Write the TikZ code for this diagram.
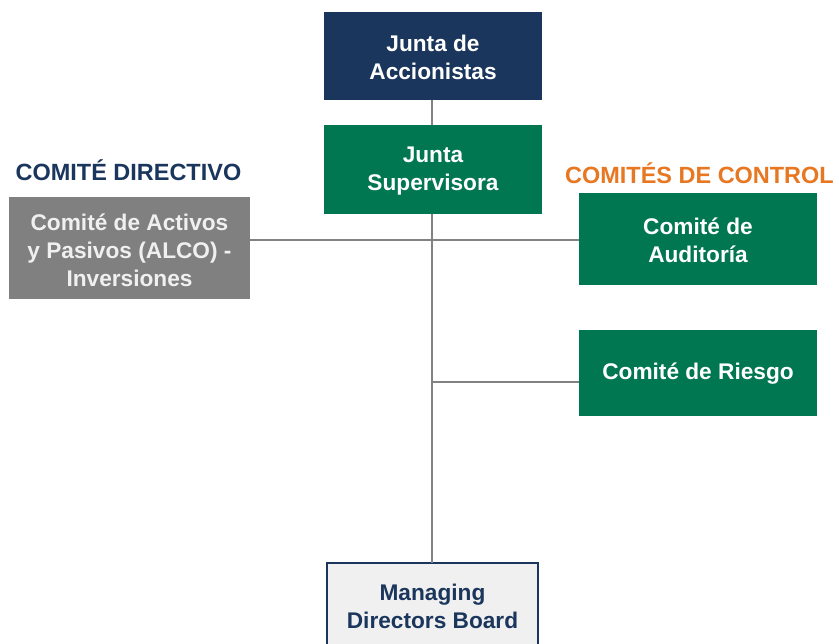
\documentclass[tikz,border=0pt]{standalone}
\usepackage{fontspec}
\setmainfont{Liberation Sans}
\definecolor{navy}{RGB}{27,54,93}
\definecolor{dgreen}{RGB}{0,119,80}
\definecolor{midgray}{RGB}{128,128,128}
\definecolor{lgray}{RGB}{240,240,240}
\definecolor{borange}{RGB}{232,119,34}
\definecolor{linegray}{RGB}{130,130,130}
\begin{document}
\begin{tikzpicture}[x=0.75pt,y=-0.75pt,
  box/.style={draw=none,inner sep=0pt,align=center,font=\bfseries\fontsize{17}{21}\selectfont,text=white},
  hdr/.style={font=\bfseries\fontsize{17.6}{20}\selectfont,inner sep=0pt},
  conn/.style={draw=linegray,line width=1.1pt}]
\useasboundingbox (0,0) rectangle (839,643);
\clip (0,0) rectangle (839,643);
\fill[white] (0,0) rectangle (839,643);
% boxes
\fill[navy] (324,12) rectangle (542,100);
\node[box] (ja) at (433,57) {Junta de\\Accionistas};
\fill[dgreen] (324,125) rectangle (542,214);
\node[box] (js) at (433,171) {Junta\\Supervisora};
\fill[midgray] (9,197) rectangle (250,299);
\node[box,text=lgray] (alco) at (129.5,250) {Comité de Activos\\y Pasivos (ALCO) -\\Inversiones};
\fill[dgreen] (579,193) rectangle (817,285);
\node[box] (aud) at (698,240) {Comité de\\Auditoría};
\fill[dgreen] (579,330) rectangle (817,416);
\node[box] (rie) at (698,374) {Comité de Riesgo};
\filldraw[fill=lgray,draw=navy,line width=1pt] (327,563) rectangle (538,660);
\node[box,text=navy] (mdb) at (432.5,606) {Managing\\Directors Board};
% headers
\node[hdr,text=navy] (hdir) at (128.5,170) {COMITÉ DIRECTIVO};
\node[hdr,text=borange] (hctl) at (699.5,173) {COMITÉS DE CONTROL};
% connectors
\coordinate (top) at (432,100);
\coordinate (bot) at (432,563);
\coordinate (j2) at (432,382);
\coordinate (lft) at (250,240);
\coordinate (rt1) at (579,240);
\coordinate (rt2) at (579,382);
\draw[conn] (top) -- (432,125);
\draw[conn] (432,214) -- (bot);
\draw[conn] (lft) -- (rt1);
\draw[conn] (j2) -- (rt2);
\end{tikzpicture}
\end{document}
